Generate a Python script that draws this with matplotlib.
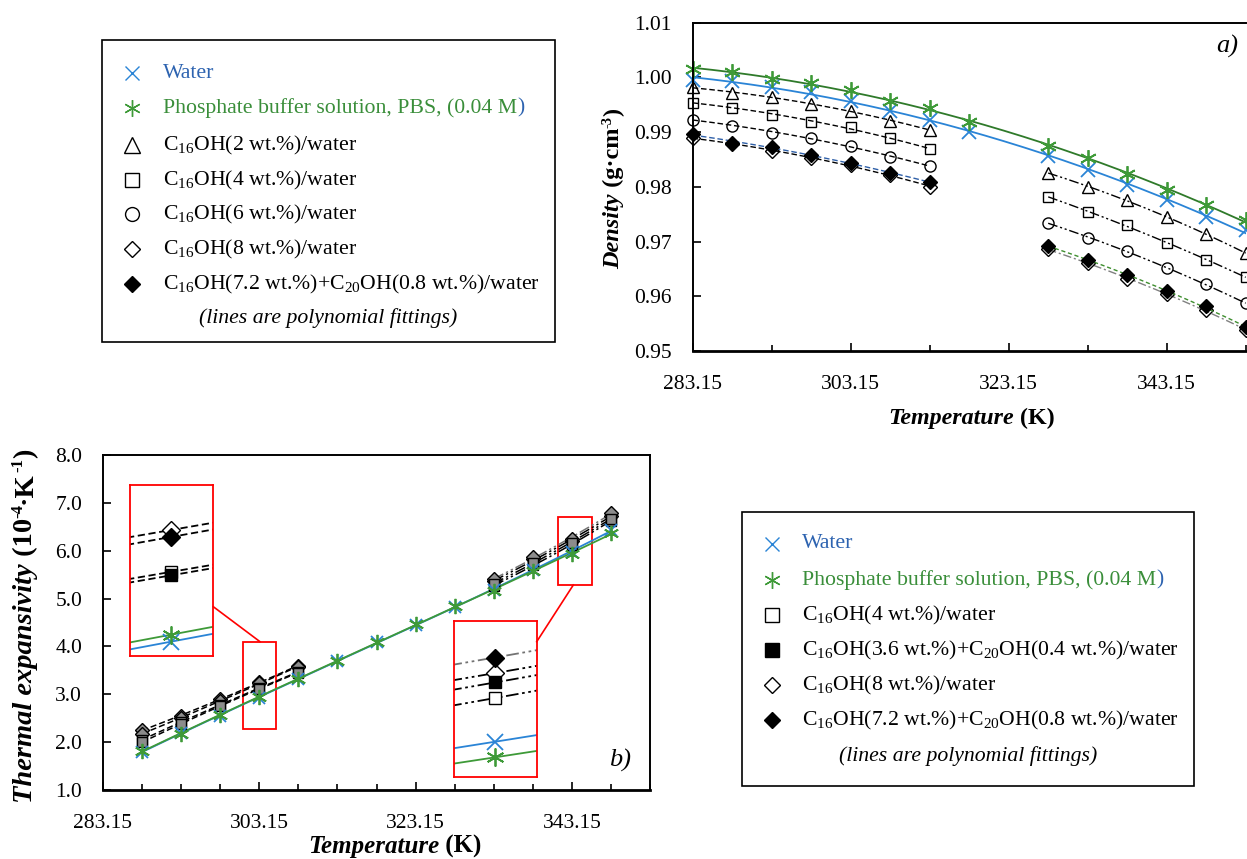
import numpy as np
import matplotlib
matplotlib.use("Agg")
import matplotlib.pyplot as plt
from matplotlib.lines import Line2D
from matplotlib.patches import Rectangle

plt.rcParams['font.family'] = ['Liberation Serif', 'DejaVu Serif']
plt.rcParams['mathtext.fontset'] = 'custom'
plt.rcParams['mathtext.rm'] = 'Liberation Serif'
plt.rcParams['mathtext.it'] = 'Liberation Serif:italic'
plt.rcParams['mathtext.bf'] = 'Liberation Serif:bold'

W, H = 1247, 859

# ---------------- panel a: density (g/cm3) ----------------
T_ref_a = [283.15, 288.15, 293.15, 298.15, 303.15, 308.15, 313.15, 318.15,
           328.15, 333.15, 338.15, 343.15, 348.15, 353.15]
water_a = [0.9995, 0.9993, 0.9982, 0.9974, 0.9957, 0.9939, 0.9923, 0.9901,
           0.9856, 0.9831, 0.9804, 0.9776, 0.9745, 0.9721]
pbs_a = [1.0015, 1.0010, 0.9998, 0.9989, 0.9977, 0.9957, 0.9945, 0.9919,
         0.9875, 0.9852, 0.9823, 0.9795, 0.9767, 0.9739]

T_low_a = [283.15, 288.15, 293.15, 298.15, 303.15, 308.15, 313.15]
T_high_a = [328.15, 333.15, 338.15, 343.15, 348.15, 353.15]
c16_2_low = [0.9982, 0.9971, 0.9965, 0.9951, 0.9939, 0.9921, 0.9904]
c16_2_high = [0.9826, 0.9799, 0.9776, 0.9745, 0.9713, 0.9679]
c16_4_low = [0.9954, 0.9945, 0.9932, 0.9919, 0.9909, 0.9889, 0.9869]
c16_4_high = [0.9782, 0.9754, 0.9730, 0.9697, 0.9667, 0.9635]
c16_6_low = [0.9923, 0.9912, 0.9899, 0.9889, 0.9875, 0.9855, 0.9838]
c16_6_high = [0.9734, 0.9707, 0.9683, 0.9651, 0.9622, 0.9587]
c16_8_low = [0.9890, 0.9878, 0.9866, 0.9852, 0.9840, 0.9822, 0.9800]
c16_8_high = [0.9686, 0.9660, 0.9632, 0.9604, 0.9575, 0.9538]
mix8_low = [0.9896, 0.9881, 0.9872, 0.9859, 0.9843, 0.9825, 0.9809]
mix8_high = [0.9692, 0.9667, 0.9638, 0.9609, 0.9582, 0.9543]

# ---------------- panel b: thermal expansivity (1e-4 1/K) ----------------
T_ref_b = [288.15, 293.15, 298.15, 303.15, 308.15, 313.15, 318.15, 323.15,
           328.15, 333.15, 338.15, 343.15, 348.15]
water_b = [1.80, 2.19, 2.55, 2.93, 3.31, 3.70, 4.09, 4.45, 4.83, 5.17, 5.60, 5.98, 6.43]
pbs_b = [1.82, 2.18, 2.56, 2.95, 3.32, 3.70, 4.09, 4.46, 4.84, 5.16, 5.57, 5.93, 6.37]

T_low_b = [288.15, 293.15, 298.15, 303.15, 308.15]
T_high_b = [333.15, 338.15, 343.15, 348.15]
b_c16_4_low = [2.05, 2.42, 2.78, 3.13, 3.47]
b_c16_4_high = [5.27, 5.70, 6.12, 6.63]
b_mix4_low = [2.00, 2.38, 2.75, 3.12, 3.45]
b_mix4_high = [5.31, 5.75, 6.17, 6.67]
b_c16_8_low = [2.25, 2.55, 2.90, 3.25, 3.60]
b_c16_8_high = [5.36, 5.83, 6.20, 6.73]
b_mix8_low = [2.18, 2.50, 2.86, 3.23, 3.58]
b_mix8_high = [5.40, 5.87, 6.25, 6.78]

xticks_major = [283.15, 303.15, 323.15, 343.15]

labels_a = ['Water', 'Phosphate buffer solution, PBS, (0.04 M)',
            'C$_{16}$OH(2 wt.%)/water', 'C$_{16}$OH(4 wt.%)/water',
            'C$_{16}$OH(6 wt.%)/water', 'C$_{16}$OH(8 wt.%)/water',
            'C$_{16}$OH(7.2 wt.%)+C$_{20}$OH(0.8 wt.%)/water']
labels_b = ['Water', 'Phosphate buffer solution, PBS, (0.04 M)',
            'C$_{16}$OH(4 wt.%)/water',
            'C$_{16}$OH(3.6 wt.%)+C$_{20}$OH(0.4 wt.%)/water',
            'C$_{16}$OH(8 wt.%)/water',
            'C$_{16}$OH(7.2 wt.%)+C$_{20}$OH(0.8 wt.%)/water']
note = '(lines are polynomial fittings)'

WATER = '#2A84D6'
PBS = '#3E9A38'
WATER_TXT = '#2D63B0'
PBS_TXT = '#3A8E3A'
STAR = (6, 2, 0)
LEG_FS = 15.7

fig = plt.figure(figsize=(W / 100, H / 100), dpi=100)
rend = fig.canvas.get_renderer()


def fbox(x0, y0, x1, y1):
    return [x0 / W, 1 - y1 / H, (x1 - x0) / W, (y1 - y0) / H]


def fit(ax, x, y, deg, **kw):
    xs = np.linspace(min(x), max(x), 200)
    ax.plot(xs, np.polyval(np.polyfit(x, y, deg), xs), **kw)


def fit_local(ax, x, y, t0, **kw):
    # quadratic through the point at t0 and its two neighbours
    i = list(x).index(t0)
    p = np.polyfit(x[i - 1:i + 2], y[i - 1:i + 2], 2)
    xs = np.linspace(t0 - 1.5, t0 + 1.5, 50)
    ax.plot(xs, np.polyval(p, xs), **kw)


def style_axes(ax):
    for s in ax.spines.values():
        s.set_linewidth(1.4)
    ax.spines['bottom'].set_linewidth(2.0)
    ax.tick_params(which='both', direction='in', labelsize=15.5, width=1.2,
                   top=False, right=False)
    ax.tick_params(which='major', length=6)
    ax.tick_params(which='minor', length=4)
    ax.tick_params(axis='y', pad=15)
    ax.tick_params(axis='x', pad=17)


# ---------------- axes a ----------------
axa = fig.add_axes(fbox(692.7, 22.7, 1245.7, 351))
axa.set_xlim(283.15, 353.15)
axa.set_ylim(0.95, 1.01)
axa.set_xticks(xticks_major)
axa.set_xticklabels(['%.2f' % t for t in xticks_major])
axa.set_xticks(np.arange(283.15, 353.2, 10), minor=True)
axa.set_yticks(np.arange(0.95, 1.0101, 0.01))
axa.set_yticklabels(['%.2f' % v for v in np.arange(0.95, 1.0101, 0.01)])
style_axes(axa)
axa.spines['right'].set_visible(False)

fit(axa, T_ref_a, water_a, 2, color=WATER, lw=1.3)
fit(axa, T_ref_a, pbs_a, 2, color='#2F7A2A', lw=1.3)
ddot = (0, (7, 2, 1.5, 2, 1.5, 2))
low_sets = [(c16_2_low, '^', 'none', (0, (4, 2)), 'k'),
            (c16_4_low, 's', 'none', (0, (4, 2)), 'k'),
            (c16_6_low, 'o', 'none', (0, (4, 2)), 'k'),
            (c16_8_low, 'D', 'none', (0, (4, 2)), 'k'),
            (mix8_low, 'D', 'k', (0, (4, 2)), '#2E5FA8')]
high_sets = [(c16_2_high, '^', 'none', ddot, 'k'),
             (c16_4_high, 's', 'none', ddot, 'k'),
             (c16_6_high, 'o', 'none', ddot, 'k'),
             (c16_8_high, 'D', 'none', (0, (6, 2, 1.5, 2)), '0.5'),
             (mix8_high, 'D', 'k', (0, (3, 2)), '#3E8E2E')]
msize = {'^': 9, 's': 7, 'o': 8, 'D': 7}
for T, sets in ((T_low_a, low_sets), (T_high_a, high_sets)):
    for vals, m, fc, ls, lc in sets:
        fit(axa, T, vals, 2, color=lc, lw=1.0, ls=ls)
        axa.plot(T, vals, ls='none', marker=m, ms=msize[m], mfc=fc, mec='k',
                 mew=1.0, clip_on=False)
axa.plot(T_ref_a, water_a, ls='none', marker='x', ms=10, mec=WATER, mew=1.3, clip_on=False)
axa.plot(T_ref_a, pbs_a, ls='none', marker=STAR, ms=12, mec=PBS, mew=1.3, clip_on=False)

fig.text(1227 / W, 1 - 46 / H, 'a)', fontsize=19, style='italic', ha='center', va='center')

# ---------------- axes b ----------------
axb = fig.add_axes(fbox(103, 455, 650, 790))
axb.set_xlim(283.15, 353.15)
axb.set_ylim(1.0, 8.0)
axb.set_xticks(xticks_major)
axb.set_xticklabels(['%.2f' % t for t in xticks_major])
axb.set_xticks(np.arange(283.15, 353.2, 5), minor=True)
axb.set_yticks(np.arange(1, 8.01, 1))
axb.set_yticklabels(['%.1f' % v for v in np.arange(1, 8.01, 1)])
style_axes(axb)

b_low = [(b_c16_8_low, 'D', 'none', 'k'), (b_mix8_low, 'D', 'k', 'k'),
         (b_c16_4_low, 's', 'none', 'k'), (b_mix4_low, 's', 'k', 'k')]
b_high = [(b_c16_8_high, 'D', 'none', 'k'), (b_mix8_high, 'D', 'k', '0.45'),
          (b_c16_4_high, 's', 'none', 'k'), (b_mix4_high, 's', 'k', 'k')]


def draw_b(ax, ms, t0=None):
    main = t0 is None
    for T, vals, c, d in ((T_ref_b, water_b, WATER, 3), (T_ref_b, pbs_b, PBS, 3)):
        if main:
            fit(ax, T, vals, d, color=c, lw=1.3)
        else:
            fit_local(ax, T, vals, t0, color=c, lw=1.3)
    for T, sets, ls in ((T_low_b, b_low, (0, (4, 2))), (T_high_b, b_high, ddot)):
        if not main and t0 not in T:
            continue
        for vals, m, fc, lc in sets:
            if main:
                fit(ax, T, vals, 2, color=lc, lw=1.1, ls=ls)
            else:
                fit_local(ax, T, vals, t0, color=lc, lw=1.3, ls=ls)
        for vals, m, fc, lc in sets:
            if main:
                face = '0.55'
            else:
                face = 'white' if fc == 'none' else fc
            ax.plot(T, vals, ls='none', marker=m, ms=ms, mfc=face, mec='k', mew=1.0)
    ax.plot(T_ref_b, water_b, ls='none', marker='x', ms=ms + 2, mec=WATER, mew=1.3)
    ax.plot(T_ref_b, pbs_b, ls='none', marker=STAR, ms=ms + 4, mec=PBS, mew=1.3)


draw_b(axb, 7)
fig.text(620 / W, 1 - 760 / H, 'b)', fontsize=19, style='italic', ha='center', va='center')

# zoom boxes and insets
axb.add_patch(Rectangle((301.1, 2.28), 4.2, 1.82, fill=False, ec='red', lw=1.3))
axb.add_patch(Rectangle((341.4, 5.28), 4.3, 1.42, fill=False, ec='red', lw=1.3))
insets = [(fbox(130, 485, 213.3, 656), 303.15, (302.86, 303.45), (2.889, 3.379)),
          (fbox(454, 620.7, 537.3, 776.7), 343.15, (342.9, 343.41), (5.868, 6.368))]
for rect, t0, xl, yl in insets:
    ins = fig.add_axes(rect)
    draw_b(ins, 9, t0)
    ins.set_xlim(*xl)
    ins.set_ylim(*yl)
    ins.set_xticks([])
    ins.set_yticks([])
    for s in ins.spines.values():
        s.set_color('red')
        s.set_linewidth(1.3)
fig.add_artist(Line2D([213.3 / W, 260 / W], [1 - 606.7 / H, 1 - 641.7 / H], color='red', lw=1.2))
fig.add_artist(Line2D([573.3 / W, 536.7 / W], [1 - 585 / H, 1 - 641.7 / H], color='red', lw=1.2))


# ---------------- axis titles (pieces: text, size, italic, rise in px) ----------------
def rich(xc, yc, pieces, rot):
    placed, pos = [], 0.0
    for s, size, it, rise in pieces:
        t = fig.text(0, 0, s, fontsize=size, weight='bold',
                     style='italic' if it else 'normal', rotation=90 if rot else 0,
                     rotation_mode='anchor', ha='left', va='baseline')
        ext = t.get_window_extent(rend)
        placed.append((t, pos, rise))
        pos += ext.height if rot else ext.width
    for t, p, rise in placed:
        if rot:
            t.set_position(((xc - rise) / W, 1 - (yc + pos / 2 - p) / H))
        else:
            t.set_position(((xc - pos / 2 + p) / W, 1 - (yc - rise) / H))


rich(971, 424, [('Temperature', 17.3, True, 0), (' (K)', 17.3, False, 0)], False)
rich(395, 853, [('Temperature', 18, True, 0), (' (K)', 18, False, 0)], False)
rich(619, 188, [('Density', 17.5, True, 0), (' (g·cm', 17.5, False, 0),
                ('-3', 10.5, False, 8), (')', 17.5, False, 0)], True)
rich(32, 626, [('Thermal expansivity', 20.5, True, 0), (' (10', 20.5, False, 0),
               ('-4', 12, False, 10), ('·K', 20.5, False, 0), ('-1', 12, False, 10),
               (')', 20.5, False, 0)], True)

# ---------------- legends ----------------
legend_a_rows = [73, 108, 145, 180, 214, 249, 284]
legend_b_rows = [544, 580, 615, 650, 685, 720]
mk_a = [('x', 'none', WATER), (STAR, 'none', PBS), ('^', 'none', 'k'), ('s', 'none', 'k'),
        ('o', 'none', 'k'), ('D', 'none', 'k'), ('D', 'k', 'k')]
mk_b = [('x', 'none', WATER), (STAR, 'none', PBS), ('s', 'none', 'k'), ('s', 'k', 'k'),
        ('D', 'none', 'k'), ('D', 'k', 'k')]


def legend(x0, y0, x1, y1, rows, labels, marks, mx, tx, note_y):
    fig.add_artist(Rectangle((x0 / W, 1 - y1 / H), (x1 - x0) / W, (y1 - y0) / H,
                             transform=fig.transFigure, fill=False, ec='k', lw=1.2))
    for y, lab, (m, fc, c) in zip(rows, labels, marks):
        size = {'x': 10, '^': 11, 's': 10, 'o': 10, 'D': 8}.get(m, 12)
        fig.add_artist(Line2D([mx / W], [1 - y / H], ls='none', marker=m, ms=size,
                              mfc=fc, mec=c, mew=1.0, transform=fig.transFigure))
        col = 'k'
        if lab == 'Water':
            col = WATER_TXT
        if lab.startswith('Phosphate'):
            t = fig.text(tx / W, 1 - y / H, lab[:-1], fontsize=LEG_FS, color=PBS_TXT, va='center')
            bb = t.get_window_extent(rend)
            fig.text(bb.x1 / W, 1 - y / H, ')', fontsize=LEG_FS, color=WATER_TXT, va='center')
            continue
        fig.text(tx / W, 1 - y / H, lab, fontsize=LEG_FS, color=col, va='center')
    fig.text((x0 + x1) / 2 / W, 1 - note_y / H, note, fontsize=LEG_FS, style='italic',
             ha='center', va='center')


legend(101.7, 40, 555, 342, legend_a_rows, labels_a, mk_a, 132, 163, 318)
legend(742, 512, 1194, 786, legend_b_rows, labels_b, mk_b, 772, 802, 756)

fig.savefig('out.png', dpi=100)
